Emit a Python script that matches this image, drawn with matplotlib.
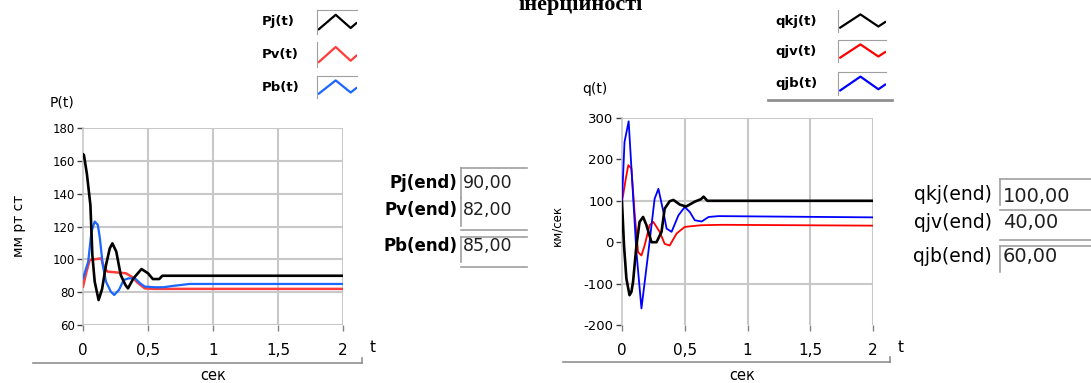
import numpy as np
import matplotlib
matplotlib.use("Agg")
import matplotlib.pyplot as plt
from matplotlib.lines import Line2D

# pressure transients, mm Hg
t_pj = [0, 0.007, 0.03, 0.057, 0.072, 0.09, 0.12, 0.147, 0.177, 0.206, 0.226, 0.256,
        0.29, 0.326, 0.346, 0.388, 0.45, 0.5, 0.537, 0.587, 0.61, 2.0]
pj = [164, 163.6, 152, 133, 102.6, 86.4, 75.2, 82, 96.5, 106.7, 109.7, 104.7,
      90.5, 84.4, 82.3, 88.4, 94.1, 91.5, 88, 88, 90, 90]
t_pv = [0, 0.027, 0.052, 0.14, 0.164, 0.19, 0.33, 0.375, 0.425, 0.475, 0.55, 2.0]
pv = [83.4, 92.5, 99.6, 100.6, 94.5, 92.5, 91.5, 89.4, 85.4, 82.3, 82, 82]
t_pb = [0, 0.04, 0.065, 0.09, 0.114, 0.13, 0.152, 0.177, 0.214, 0.24, 0.276, 0.313,
        0.35, 0.4, 0.44, 0.475, 0.55, 0.62, 0.69, 0.82, 0.97, 2.0]
pb = [88.4, 98.6, 116.9, 123, 121, 112.8, 96.5, 86.4, 80.3, 78.3, 81.3, 87.4,
      88.4, 88.4, 85.4, 83.4, 83, 83, 83.8, 85, 85, 85]

# flow transients
t_qkj = [0, 0.016, 0.035, 0.06, 0.075, 0.088, 0.115, 0.14, 0.168, 0.195, 0.235, 0.275,
         0.315, 0.34, 0.38, 0.41, 0.46, 0.51, 0.58, 0.63, 0.65, 0.68, 2.0]
qkj = [97, -8, -88, -128, -120, -96, -8, 49, 61, 41, 0, 0,
       25, 81, 99, 102, 91, 86, 98, 104, 110, 100, 100]
t_qjv = [0, 0.03, 0.05, 0.075, 0.1, 0.128, 0.155, 0.18, 0.22, 0.25, 0.275, 0.3,
         0.34, 0.38, 0.435, 0.5, 0.63, 0.8, 2.0]
qjv = [97, 153, 186, 178, 73, -24, -32, -8, 41, 49, 37, 25,
       -4, -8, 21, 37, 41, 42, 40]
t_qjb = [0, 0.02, 0.053, 0.088, 0.115, 0.155, 0.21, 0.26, 0.29, 0.33, 0.355, 0.395,
         0.45, 0.5, 0.54, 0.58, 0.635, 0.69, 0.77, 2.0]
qjb = [100, 242, 292, 113, -24, -160, -24, 105, 129, 73, 33, 25,
       65, 85, 73, 53, 50, 61, 63, 60]

x_ticks = [0, 0.5, 1, 1.5, 2]
x_labels = ["0", "0,5", "1", "1,5", "2"]
p_ticks = [60, 80, 100, 120, 140, 160, 180]
q_ticks = [-200, -100, 0, 100, 200, 300]

p_names = ["Pj(t)", "Pv(t)", "Pb(t)"]
q_names = ["qkj(t)", "qjv(t)", "qjb(t)"]
p_end_names = ["Pj(end)", "Pv(end)", "Pb(end)"]
q_end_names = ["qkj(end)", "qjv(end)", "qjb(end)"]
p_end = [pj[-1], pv[-1], pb[-1]]
q_end = [qkj[-1], qjv[-1], qjb[-1]]

# legend glyph
icon_x = [0, 0.45, 0.85, 1.0]
icon_y = [0.2, 0.8, 0.25, 0.45]

W, H = 1091, 383
SANS = "DejaVu Sans"
GRID = "#c8c8c8"
FRAME = "#a0a0a0"


def fx(x):
    return x / W


def fy(y):
    return 1 - y / H


def box(x0, y0, x1, y1):
    return [fx(x0), fy(y1), (x1 - x0) / W, (y1 - y0) / H]


def hline(fig, x0, x1, y, color=FRAME, lw=1.2):
    fig.add_artist(Line2D([fx(x0), fx(x1)], [fy(y), fy(y)], color=color, lw=lw,
                          transform=fig.transFigure))


def vline(fig, x, y0, y1, color=FRAME, lw=1.2):
    fig.add_artist(Line2D([fx(x), fx(x)], [fy(y0), fy(y1)], color=color, lw=lw,
                          transform=fig.transFigure))


def setup_axes(ax, yticks, ylim, ygrid, ytick_size):
    ax.set_xlim(0, 2)
    ax.set_ylim(*ylim)
    for s in ["top", "right", "bottom"]:
        ax.spines[s].set_visible(False)
    ax.spines["left"].set_color(GRID)
    ax.spines["left"].set_linewidth(1.2)
    for x in x_ticks[1:]:
        ax.axvline(x, color=GRID, lw=1.5, zorder=0)
    for y in ygrid:
        ax.axhline(y, color=GRID, lw=1.5, zorder=0)
    ax.set_xticks(x_ticks)
    ax.set_xticklabels(x_labels, fontsize=11, family=SANS)
    ax.set_yticks(yticks)
    ax.set_yticklabels([str(v) for v in yticks], fontsize=ytick_size, family=SANS)
    ax.tick_params(axis="x", length=4, width=1, color="#808080", pad=9)
    ax.tick_params(axis="y", length=4, width=1, color="#404040", pad=2)


def legend_rows(fig, names, colors, text_x, icon_box, rows, frames):
    for name, c, (y0, y1), fr in zip(names, colors, rows, frames):
        fig.text(fx(text_x), fy((y0 + y1) / 2), name, fontsize=9.5, fontweight="bold",
                 family=SANS, ha="left", va="center")
        ia = fig.add_axes(box(icon_box[0], y0, icon_box[1], y1))
        ia.plot(icon_x, icon_y, color=c, lw=1.6)
        ia.set_xlim(-0.05, 1.02)
        ia.set_ylim(0, 1)
        ia.set_xticks([])
        ia.set_yticks([])
        for s in ia.spines:
            ia.spines[s].set_visible(s in fr)
            ia.spines[s].set_color(FRAME)
        ia.patch.set_alpha(0)


fig = plt.figure(figsize=(W / 100, H / 100), dpi=100)

# heading, runs off the top edge
fig.text(fx(581), fy(10), "інерційності", fontsize=16, fontweight="bold",
         family="Liberation Serif", ha="center", va="baseline")

# ---- pressure plot ----
ax1 = fig.add_axes(box(83, 128, 343, 325))
setup_axes(ax1, p_ticks, (60, 180), p_ticks, 8.5)
ax1.plot(t_pj, pj, color="black", lw=1.9, zorder=4)
ax1.plot(t_pv, pv, color="#ff3b3b", lw=1.8, zorder=3)
ax1.plot(t_pb, pb, color="#1a66ff", lw=1.6, zorder=3)
fig.text(fx(50), fy(102), "P(t)", fontsize=10, family=SANS, ha="left", va="center")
fig.text(fx(19), fy(226), "мм рт ст", fontsize=10, family=SANS, rotation=90,
         ha="center", va="center")
hline(fig, 33, 362, 363, color="#909090")
vline(fig, 362, 358, 363, color="#909090")
fig.text(fx(370), fy(348), "t", fontsize=11, family=SANS, ha="left", va="center")
fig.text(fx(213), fy(375), "сек", fontsize=10.5, family=SANS, ha="center", va="center")

legend_rows(fig, p_names, ["black", "#ff3b3b", "#1a66ff"], 262, (317, 357),
            [(10, 34), (42, 67), (76, 98)],
            [("top", "left"), ("left",), ("top", "left")])

# end values, pressure
for name, val, yc in zip(p_end_names, p_end, [183, 210, 246]):
    fig.text(fx(457), fy(yc), name, fontsize=12, fontweight="bold", family=SANS,
             ha="right", va="center")
    fig.text(fx(463), fy(yc), f"{val:.2f}".replace(".", ","), fontsize=12.5,
             family=SANS, color="#202020", ha="left", va="center")
hline(fig, 461, 527, 168)
vline(fig, 461, 168, 198)
vline(fig, 461, 198, 226)
hline(fig, 461, 527, 230)
hline(fig, 461, 527, 237)
vline(fig, 461, 237, 262)
hline(fig, 461, 527, 267)

# ---- flow plot ----
ax2 = fig.add_axes(box(622, 118, 873, 325))
setup_axes(ax2, q_ticks, (-200, 300), [300, 100, -100], 9.5)
ax2.plot(t_qkj, qkj, color="black", lw=1.9, zorder=4)
ax2.plot(t_qjv, qjv, color="#ff0000", lw=1.3, zorder=3)
ax2.plot(t_qjb, qjb, color="#0000ff", lw=1.3, zorder=3)
fig.text(fx(582), fy(89), "q(t)", fontsize=10, family=SANS, ha="left", va="center")
fig.text(fx(557), fy(225), "км/сек", fontsize=8.5, family=SANS, rotation=90,
         ha="center", va="center")
hline(fig, 563, 890, 362, color="#909090")
vline(fig, 890, 357, 362, color="#909090")
fig.text(fx(898), fy(348), "t", fontsize=11, family=SANS, ha="left", va="center")
fig.text(fx(742), fy(375), "сек", fontsize=10.5, family=SANS, ha="center", va="center")

legend_rows(fig, q_names, ["black", "#ff0000", "#0000ff"], 775, (838, 886),
            [(10, 32), (40, 62), (72, 95)],
            [("left",), ("top", "left"), ("top", "left")])
hline(fig, 768, 892, 100, color="#909090", lw=2)

# end values, flow
for name, val, yc in zip(q_end_names, q_end, [195, 222, 256]):
    fig.text(fx(992), fy(yc), name, fontsize=13.5, family=SANS, ha="right", va="center")
    fig.text(fx(1003), fy(yc + 1), f"{val:.2f}".replace(".", ","), fontsize=14,
             family=SANS, color="#202020", ha="left", va="center")
hline(fig, 1000, 1091, 179)
vline(fig, 1000, 179, 205)
hline(fig, 1000, 1091, 210)
hline(fig, 1000, 1091, 240)
hline(fig, 1000, 1091, 246)
vline(fig, 1000, 246, 272)

fig.savefig("out.png", dpi=100)
